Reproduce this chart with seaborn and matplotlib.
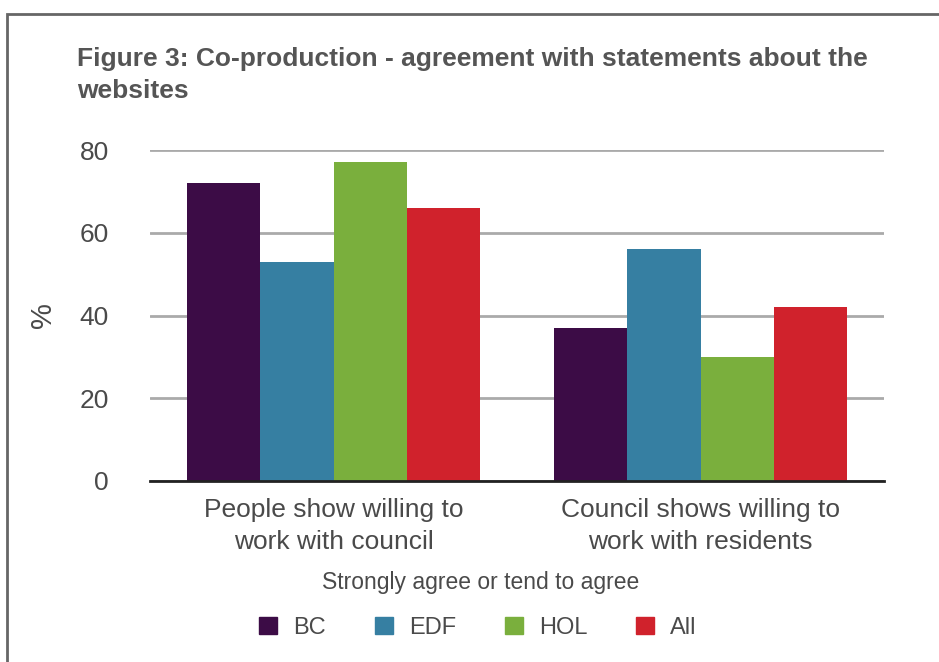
import matplotlib
matplotlib.use("Agg")
import matplotlib.pyplot as plt
import seaborn as sns
import pandas as pd
from matplotlib.patches import Rectangle

categories = ["People show willing to\nwork with council", "Council shows willing to\nwork with residents"]
groups = ["BC", "EDF", "HOL", "All"]
bc = [72, 37]
edf = [53, 56]
hol = [77, 30]
all_ = [66, 42]
colors = ["#3C0C46", "#367FA2", "#7AAF3D", "#D0222C"]

rows = []
for g, vals in zip(groups, [bc, edf, hol, all_]):
    for c, v in zip(categories, vals):
        rows.append({"cat": c, "grp": g, "val": v})
df = pd.DataFrame(rows)

sns.set_theme(style="white")
plt.rcParams['font.family'] = ['Liberation Sans', 'DejaVu Sans']
txt = "#4a4a4a"

W, H = 939, 662
fig = plt.figure(figsize=(W / 100, H / 100), dpi=100)
ax = fig.add_axes([150 / W, 1 - 481 / H, (884 - 150) / W, (481 - 150) / H])
sns.barplot(data=df, x="cat", y="val", hue="grp", palette=colors, order=categories,
            hue_order=groups, width=0.8, saturation=1, ax=ax, legend=False,
            linewidth=0, edgecolor="none", zorder=3)
ax.set_ylim(0, 80)
ax.set_xlim(-0.5, 1.5)
ax.set_yticks([0, 20, 40, 60, 80])
ax.yaxis.grid(True, color="#AAAAAA", linewidth=2, zorder=0)
ax.set_axisbelow(True)
for s in ["top", "right", "left"]:
    ax.spines[s].set_visible(False)
ax.spines["bottom"].set_color("#222222")
ax.spines["bottom"].set_linewidth(2)
ax.spines["bottom"].set_zorder(5)
ax.tick_params(axis="y", length=0, pad=29.5, labelsize=19, labelcolor=txt)
ax.tick_params(axis="x", length=0, pad=12.5, labelsize=19, labelcolor=txt)
for lab in ax.get_xticklabels():
    lab.set_linespacing(1.4)
ax.set_xlabel("")
ax.set_ylabel("%", fontsize=21, color=txt)
ax.yaxis.set_label_coords((57 - 150) / 734, 0.5)

fig.text(481 / W, 1 - 583 / H, "Strongly agree or tend to agree", fontsize=16.5,
         color=txt, ha="center", va="center")

fig.text(77 / W, 1 - 66 / H, "Figure 3: Co-production - agreement with statements about the",
         fontsize=19, fontweight="bold", color="#555555", va="baseline", ha="left")
fig.text(77 / W, 1 - 98 / H, "websites",
         fontsize=19, fontweight="bold", color="#555555", va="baseline", ha="left")

handles = [Rectangle((0, 0), 1, 1, color=c) for c in colors]
fig.legend(handles, groups, loc="center", bbox_to_anchor=(478 / W, 1 - 628 / H), ncol=4,
           frameon=False, fontsize=17, handlelength=0.76, handleheight=0.76,
           columnspacing=2.05, handletextpad=0.7, labelcolor=txt)

fig.patches.append(Rectangle((7 / W, -0.1), 1.2, 1 - 14 / H + 0.1, transform=fig.transFigure,
                             fill=False, edgecolor="#666666", linewidth=2))

fig.savefig("out.png", dpi=100)
